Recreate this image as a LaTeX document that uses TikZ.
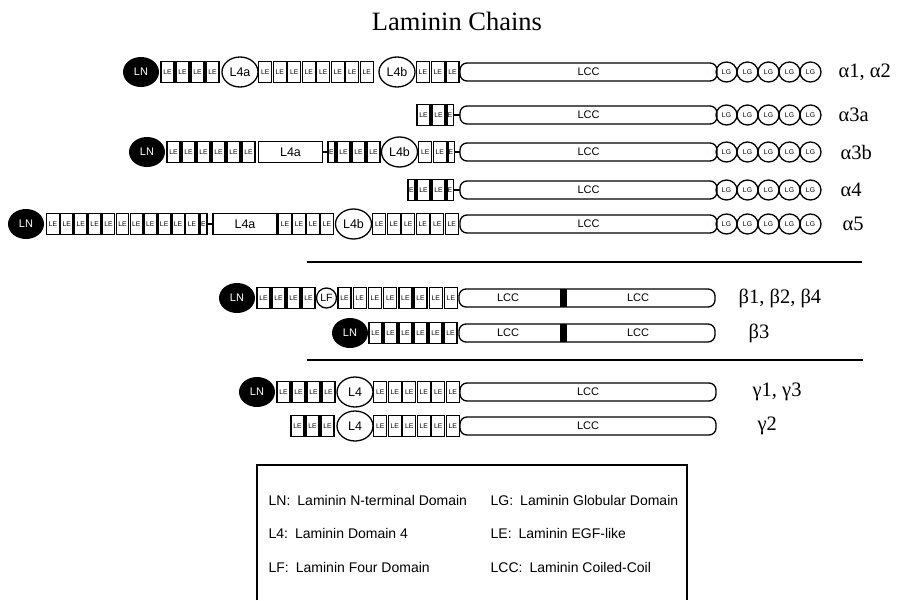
\documentclass[tikz,border=0pt]{standalone}
\usepackage{fontspec}
\setsansfont{Liberation Sans}
\newfontfamily\labelfont{Liberation Serif}
\usetikzlibrary{shapes.geometric}

\tikzset{
  dom/.style={draw,line width=1.3pt,inner sep=0pt,outer sep=0pt},
  lebox/.style={dom,rectangle,minimum width=#1,minimum height=21,font=\sffamily\fontsize{6.8}{6.8}\selectfont},
  lebox/.default=13,
  halfbox/.style={dom,rectangle,minimum width=7,minimum height=21,font=\sffamily\fontsize{6.8}{6.8}\selectfont},
  thickleft/.style={line width=2.4pt},
  lnnode/.style={ellipse,fill=black,text=white,minimum width=36,minimum height=30,inner sep=0pt,font=\sffamily\fontsize{11}{11}\selectfont},
  lfour/.style={dom,ellipse,minimum width=36,minimum height=30,font=\sffamily\fontsize{12.5}{12.5}\selectfont},
  lfourbox/.style={dom,rectangle,minimum width=64,minimum height=21,font=\sffamily\fontsize{12.5}{12.5}\selectfont},
  lfnode/.style={dom,circle,minimum size=20,font=\sffamily\fontsize{10.5}{10.5}\selectfont},
  lccbox/.style={dom,rectangle,rounded corners=7pt,minimum width=#1,minimum height=18,font=\sffamily\fontsize{11}{11}\selectfont},
  lcctext/.style={inner sep=0pt,font=\sffamily\fontsize{11}{11}\selectfont},
  lgnode/.style={dom,ellipse,minimum width=21,minimum height=20,font=\sffamily\fontsize{6.8}{6.8}\selectfont},
  chainlabel/.style={anchor=west,inner sep=0pt,font=\labelfont\fontsize{20.5}{20.5}\selectfont},
  legendtext/.style={anchor=west,inner sep=0pt,font=\sffamily\fontsize{14}{14}\selectfont},
  sepline/.style={line width=1.4pt},
}

\begin{document}
\begin{tikzpicture}[x=1pt,y=-1pt,line width=1.3pt]
    \useasboundingbox (0,0) rectangle (897,600);
    %% title
    \node[font=\labelfont\fontsize{26.5}{26.5}\selectfont] (title) at (457,21) {Laminin Chains};
    %% alpha chains: coiled-coil, globular domains
    \foreach \r/\y in {a1/72,a3a/115,a3b/152,a4/190,a5/224}{
        \node[lccbox=257] (\r lcc) at (588.5,\y) {LCC};
        \foreach \i in {1,...,5} \node[lgnode] (\r lg\i) at ({716+21*(\i-0.5)},\y) {LG};
    }
    \node[chainlabel] (a1lab) at (838,72) {α1, α2};
    \node[chainlabel] (a3alab) at (838,115) {α3a};
    \node[chainlabel] (a3blab) at (840,152) {α3b};
    \node[chainlabel] (a4lab) at (840,190) {α4};
    \node[chainlabel] (a5lab) at (842,224) {α5};
    %% alpha 1, alpha 2
    \node[lnnode] (a1ln) at (141,72) {LN};
    \foreach \i in {1,...,4} \node[lebox] (a1lea\i) at ({160+15*(\i-0.5)},72) {LE};
    \node[lfour] (a1l4a) at (240,72) {L4a};
    \foreach \i in {1,...,8} \node[lebox] (a1leb\i) at ({258+14.5*(\i-0.5)},72) {LE};
    \node[lfour] (a1l4b) at (397,72) {L4b};
    \foreach \i in {1,...,3} \node[lebox] (a1lec\i) at ({415.5+14.8*(\i-0.5)},72) {LE};
    %% alpha 3a
    \foreach \i in {1,2} \node[lebox] (a3ale\i) at ({416+15*(\i-0.5)},115) {LE};
    \node[halfbox] (a3ae) at (450,115) {E};
    \draw[thickleft] (a3ae.north west) -- (a3ae.south west);
    \draw (a3ae) -- (a3alcc);
    %% alpha 3b
    \node[lnnode] (a3bln) at (147,152) {LN};
    \foreach \i in {1,...,6} \node[lebox] (a3blea\i) at ({166+15*(\i-0.5)},152) {LE};
    \node[lfourbox] (a3bl4a) at (290.5,152) {L4a};
    \node[halfbox] (a3bea) at (331.5,152) {E};
    \draw (a3bl4a) -- (a3bea);
    \foreach \i in {1,...,3} \node[lebox] (a3bleb\i) at ({336+15*(\i-0.5)},152) {LE};
    \node[lfour] (a3bl4b) at (399.5,152) {L4b};
    \foreach \i in {1,2} \node[lebox] (a3blec\i) at ({418+14.5*(\i-0.5)},152) {LE};
    \node[halfbox] (a3beb) at (451,152) {E};
    \draw[thickleft] (a3beb.north west) -- (a3beb.south west);
    \draw (a3beb) -- (a3blcc);
    %% alpha 4
    \node[halfbox] (a4ea) at (411.5,190) {E};
    \foreach \i in {1,2} \node[lebox] (a4le\i) at ({416+15*(\i-0.5)},190) {LE};
    \node[halfbox] (a4eb) at (450,190) {E};
    \draw[thickleft] (a4eb.north west) -- (a4eb.south west);
    \draw (a4eb) -- (a4lcc);
    %% alpha 5
    \node[lnnode] (a5ln) at (26,224) {LN};
    \foreach \i in {1,...,11} \node[lebox=12.4] (a5lea\i) at ({46+13.9*(\i-0.5)},224) {LE};
    \node[halfbox] (a5e) at (203.5,224) {E};
    \node[lfourbox] (a5l4a) at (245,224) {L4a};
    \draw (a5e) -- (a5l4a);
    \foreach \i in {1,...,4} \node[lebox] (a5leb\i) at ({278+14*(\i-0.5)},224) {LE};
    \node[lfour] (a5l4b) at (353.5,224) {L4b};
    \foreach \i in {1,...,6} \node[lebox] (a5lec\i) at ({372+14.5*(\i-0.5)},224) {LE};
    %% separator
    \draw[sepline] (307,262) -- (862,262);
    %% beta chains
    \foreach \r/\y in {b1/298,b3/333}{
        \node[lccbox=256] (\r lcc) at (587,\y) {};
        \node[fill=black,minimum width=7,minimum height=18,inner sep=0pt] (\r bar) at (563.5,\y) {};
        \node[lcctext] (\r lcca) at (508,\y) {LCC};
        \node[lcctext] (\r lccb) at (638,\y) {LCC};
    }
    \node[chainlabel] (b1lab) at (738,298) {β1, β2, β4};
    \node[chainlabel] (b3lab) at (748,333) {β3};
    %% beta 1, beta 2, beta 4
    \node[lnnode] (b1ln) at (237,298) {LN};
    \foreach \i in {1,...,4} \node[lebox] (b1lea\i) at ({256+15*(\i-0.5)},298) {LE};
    \node[lfnode] (b1lf) at (326.5,298) {LF};
    \foreach \i in {1,...,8} \node[lebox] (b1leb\i) at ({337+15.2*(\i-0.5)},298) {LE};
    %% beta 3
    \node[lnnode] (b3ln) at (350,333) {LN};
    \foreach \i in {1,...,6} \node[lebox] (b3le\i) at ({368+15*(\i-0.5)},333) {LE};
    %% separator
    \draw[sepline] (307,360) -- (863,360);
    %% gamma chains
    \node[lccbox=256] (g1lcc) at (588,392) {LCC};
    \node[lccbox=256] (g2lcc) at (588,426) {LCC};
    \node[chainlabel] (g1lab) at (752,392) {γ1, γ3};
    \node[chainlabel] (g2lab) at (757,426) {γ2};
    %% gamma 1, gamma 3
    \node[lnnode] (g1ln) at (257,392) {LN};
    \foreach \i in {1,...,4} \node[lebox] (g1lea\i) at ({276+15*(\i-0.5)},392) {LE};
    \node[lfour] (g1l4) at (355,392) {L4};
    \foreach \i in {1,...,6} \node[lebox] (g1leb\i) at ({373+14.5*(\i-0.5)},392) {LE};
    %% gamma 2
    \foreach \i in {1,...,3} \node[lebox] (g2lea\i) at ({290+15*(\i-0.5)},426) {LE};
    \node[lfour] (g2l4) at (355,426) {L4};
    \foreach \i in {1,...,6} \node[lebox] (g2leb\i) at ({373+14.5*(\i-0.5)},426) {LE};
    %% legend
    \draw (257,600) -- (257,465) -- (687,465) -- (687,600);
    \node[legendtext] (keyln) at (268,500) {LN:\enspace Laminin N-terminal Domain};
    \node[legendtext] (keyl4) at (268,533) {L4:\enspace Laminin Domain 4};
    \node[legendtext] (keylf) at (268,567) {LF:\enspace Laminin Four Domain};
    \node[legendtext] (keylg) at (490,500) {LG:\enspace Laminin Globular Domain};
    \node[legendtext] (keyle) at (490,533) {LE:\enspace Laminin EGF-like};
    \node[legendtext] (keylcc) at (490,567) {LCC:\enspace Laminin Coiled-Coil};
\end{tikzpicture}
\end{document}
